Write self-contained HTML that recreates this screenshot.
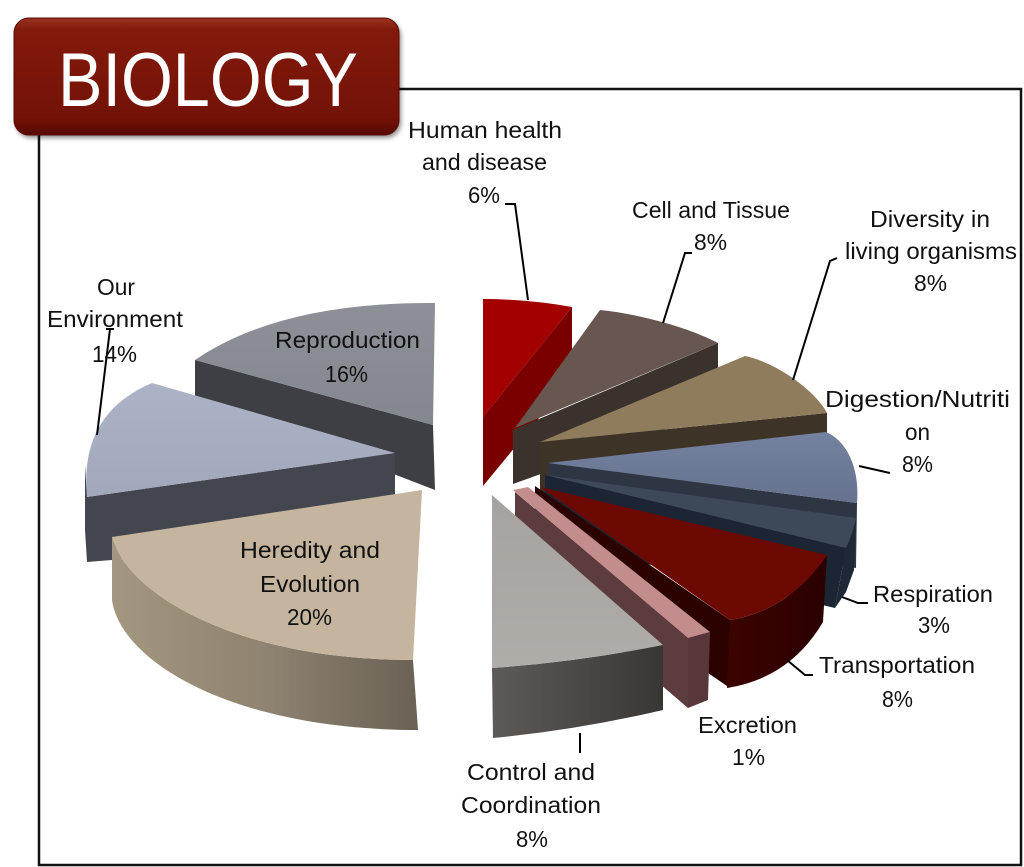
<!DOCTYPE html>
<html><head><meta charset="utf-8"><style>
html,body{margin:0;padding:0;background:#fff;}
svg{display:block;}
text{font-family:"Liberation Sans",Arial,sans-serif;fill:#111;}
</style></head><body>
<svg width="1024" height="867" viewBox="0 0 1024 867" xmlns="http://www.w3.org/2000/svg">
<defs>
<linearGradient id="box" x1="0" y1="0" x2="0" y2="1">
<stop offset="0" stop-color="#9a3322"/><stop offset="0.1" stop-color="#821a0b"/><stop offset="0.85" stop-color="#741207"/><stop offset="1" stop-color="#560a03"/>
</linearGradient>
<filter id="sh" x="-10%" y="-10%" width="120%" height="130%"><feGaussianBlur stdDeviation="2.5"/></filter>
<linearGradient id="herSide" x1="112" y1="0" x2="418" y2="0" gradientUnits="userSpaceOnUse">
<stop offset="0" stop-color="#a4977f"/><stop offset="0.5" stop-color="#8f8371"/><stop offset="1" stop-color="#6a6155"/>
</linearGradient>
<linearGradient id="ctlSide" x1="492" y1="0" x2="663" y2="0" gradientUnits="userSpaceOnUse">
<stop offset="0" stop-color="#5e5a57"/><stop offset="1" stop-color="#393634"/>
</linearGradient>
<linearGradient id="trSide" x1="727" y1="0" x2="827" y2="0" gradientUnits="userSpaceOnUse">
<stop offset="0" stop-color="#3c0300"/><stop offset="1" stop-color="#2a0000"/>
</linearGradient>
<linearGradient id="digTop" x1="0" y1="432" x2="0" y2="503" gradientUnits="userSpaceOnUse">
<stop offset="0" stop-color="#7482a0"/><stop offset="1" stop-color="#66728f"/>
</linearGradient>
<linearGradient id="envTop" x1="0" y1="383" x2="0" y2="497" gradientUnits="userSpaceOnUse">
<stop offset="0" stop-color="#adb3c6"/><stop offset="1" stop-color="#a2a8bc"/>
</linearGradient>
<linearGradient id="repTop" x1="0" y1="300" x2="0" y2="425" gradientUnits="userSpaceOnUse">
<stop offset="0" stop-color="#8e9098"/><stop offset="1" stop-color="#85878f"/>
</linearGradient>
<linearGradient id="ctlTop" x1="0" y1="495" x2="0" y2="668" gradientUnits="userSpaceOnUse">
<stop offset="0" stop-color="#a6a29f"/><stop offset="1" stop-color="#b0aca8"/>
</linearGradient>
</defs>

<!-- frame -->
<rect x="39" y="89" width="982" height="776" fill="none" stroke="#111" stroke-width="2.5"/>

<!-- Human health -->
<path d="M483,417 L572,307 L572,378 L483,486 Z" fill="#7a0000"/>
<path d="M483,299 Q527,299 572,307 L483,417 Z" fill="#a30000"/>

<!-- Reproduction -->
<path d="M195,360 L433,425 L435,490 L195,397 Z" fill="#3e3f45"/>
<path d="M195,360 Q280,302 435,303 L433,425 Z" fill="url(#repTop)"/>

<!-- Cell and Tissue -->
<path d="M513,430 L718,343 L718,410 L513,484 Z" fill="#3c322d"/>
<path d="M600,310 C640,314 690,328 718,343 L515,428 Z" fill="#675750"/>

<!-- Diversity -->
<path d="M540,442 L827,413 L827,480 L540,510 Z" fill="#3d3327"/>
<path d="M540,442 L745,356 C775,362 815,390 827,413 Z" fill="#8e7c5d"/>

<!-- Digestion -->
<path d="M548,463 L857,503 L856,568 L548,528 Z" fill="#2e3644"/>
<path d="M548,463 L826,432 C845,440 860,465 857,503 Z" fill="url(#digTop)"/>

<!-- Our Environment -->
<path d="M85,465 L87,497 L395,453 L395,495 L112,560 L87,562 L85,530 Z" fill="#44464f"/>
<path d="M152,383 C100,405 82,445 87,497 L395,453 Z" fill="url(#envTop)"/>

<!-- Respiration -->
<path d="M545,475 L846,548 L835,608 L545,540 Z" fill="#1c2534"/>
<path d="M856,518 Q853,533 846,548 L835,608 L846,592 L854,570 Z" fill="#1f2837"/>
<path d="M545,475 L856,518 Q853,533 846,548 Z" fill="#3d4959"/>

<!-- Transportation -->
<path d="M535,486 L730,620 L730,688 L535,555 Z" fill="#2c0200"/>
<path d="M827,555 Q790,610 730,620 L727,688 Q790,678 823,622 Z" fill="url(#trSide)"/>
<path d="M540,487 L827,555 Q790,610 730,620 Z" fill="#6c0902"/>

<!-- Excretion -->
<path d="M515,492 L688,638 L688,708 L515,560 Z" fill="#5c3c3e"/>
<path d="M688,638 L710,632 L708,700 L688,708 Z" fill="#573739"/>
<path d="M513,490 L528,487 L710,632 L688,638 Z" fill="#c48d8d"/>

<!-- Control and Coordination -->
<path d="M492,668 Q577,662 663,645 L663,710 Q577,730 493,738 Z" fill="url(#ctlSide)"/>
<path d="M492,495 L663,645 Q577,662 492,668 Z" fill="url(#ctlTop)"/>

<!-- Heredity -->
<path d="M112,537 C125,590 230,660 413,660 L418,730 C230,730 120,660 112,600 Z" fill="url(#herSide)"/>
<path d="M422,490 L112,537 C125,590 230,660 413,660 Z" fill="#c5b59e"/>

<!-- leader lines -->
<g fill="none" stroke="#000" stroke-width="2">
<path d="M505,204 L515,204 L528,300"/>
<path d="M692,253 L685,253 L663,323"/>
<path d="M837,258 L830,261 L793,380"/>
<path d="M890,473 L859,466"/>
<path d="M868,603 L858,603 L842,597"/>
<path d="M813,675 L805,675 L787,660"/>
<path d="M580,733 L580,753"/>
<path d="M114,329 L106,329 M110,329 L97,435"/>
</g>

<!-- labels -->
<g font-size="23.5">
<text x="408" y="138" textLength="154" lengthAdjust="spacingAndGlyphs">Human health</text>
<text x="422" y="170" textLength="125" lengthAdjust="spacingAndGlyphs">and disease</text>
<text x="468" y="203" textLength="32" lengthAdjust="spacingAndGlyphs">6%</text>
<text x="632" y="218" textLength="158" lengthAdjust="spacingAndGlyphs">Cell and Tissue</text>
<text x="694" y="250" textLength="33" lengthAdjust="spacingAndGlyphs">8%</text>
<text x="870" y="227" textLength="120" lengthAdjust="spacingAndGlyphs">Diversity in</text>
<text x="845" y="259" textLength="172" lengthAdjust="spacingAndGlyphs">living organisms</text>
<text x="914" y="291" textLength="33" lengthAdjust="spacingAndGlyphs">8%</text>
<text x="825" y="407" textLength="185" lengthAdjust="spacingAndGlyphs">Digestion/Nutriti</text>
<text x="905" y="440" textLength="25" lengthAdjust="spacingAndGlyphs">on</text>
<text x="902" y="472" textLength="31" lengthAdjust="spacingAndGlyphs">8%</text>
<text x="873" y="602" textLength="120" lengthAdjust="spacingAndGlyphs">Respiration</text>
<text x="918" y="633" textLength="32" lengthAdjust="spacingAndGlyphs">3%</text>
<text x="819" y="673" textLength="156" lengthAdjust="spacingAndGlyphs">Transportation</text>
<text x="882" y="707" textLength="31" lengthAdjust="spacingAndGlyphs">8%</text>
<text x="698" y="733" textLength="99" lengthAdjust="spacingAndGlyphs">Excretion</text>
<text x="732" y="765" textLength="33" lengthAdjust="spacingAndGlyphs">1%</text>
<text x="467" y="780" textLength="128" lengthAdjust="spacingAndGlyphs">Control and</text>
<text x="461" y="813" textLength="140" lengthAdjust="spacingAndGlyphs">Coordination</text>
<text x="516" y="847" textLength="32" lengthAdjust="spacingAndGlyphs">8%</text>
<text x="97" y="295" textLength="38" lengthAdjust="spacingAndGlyphs">Our</text>
<text x="47" y="327" textLength="136" lengthAdjust="spacingAndGlyphs">Environment</text>
<text x="92" y="362" textLength="45" lengthAdjust="spacingAndGlyphs">14%</text>
<text x="275" y="348" textLength="145" lengthAdjust="spacingAndGlyphs">Reproduction</text>
<text x="325" y="382" textLength="43" lengthAdjust="spacingAndGlyphs">16%</text>
<text x="240" y="558" textLength="140" lengthAdjust="spacingAndGlyphs">Heredity and</text>
<text x="260" y="592" textLength="100" lengthAdjust="spacingAndGlyphs">Evolution</text>
<text x="287" y="625" textLength="45" lengthAdjust="spacingAndGlyphs">20%</text>
</g>

<!-- BIOLOGY box -->
<rect x="16" y="21" width="385" height="117" rx="15" fill="#000" opacity="0.45" filter="url(#sh)"/>
<rect x="14" y="18" width="385" height="117" rx="15" fill="url(#box)" stroke="#5a0b04" stroke-width="1"/>
<text x="58" y="106" font-size="76" textLength="300" lengthAdjust="spacingAndGlyphs" style="fill:#fff">BIOLOGY</text>
</svg>
</body></html>
